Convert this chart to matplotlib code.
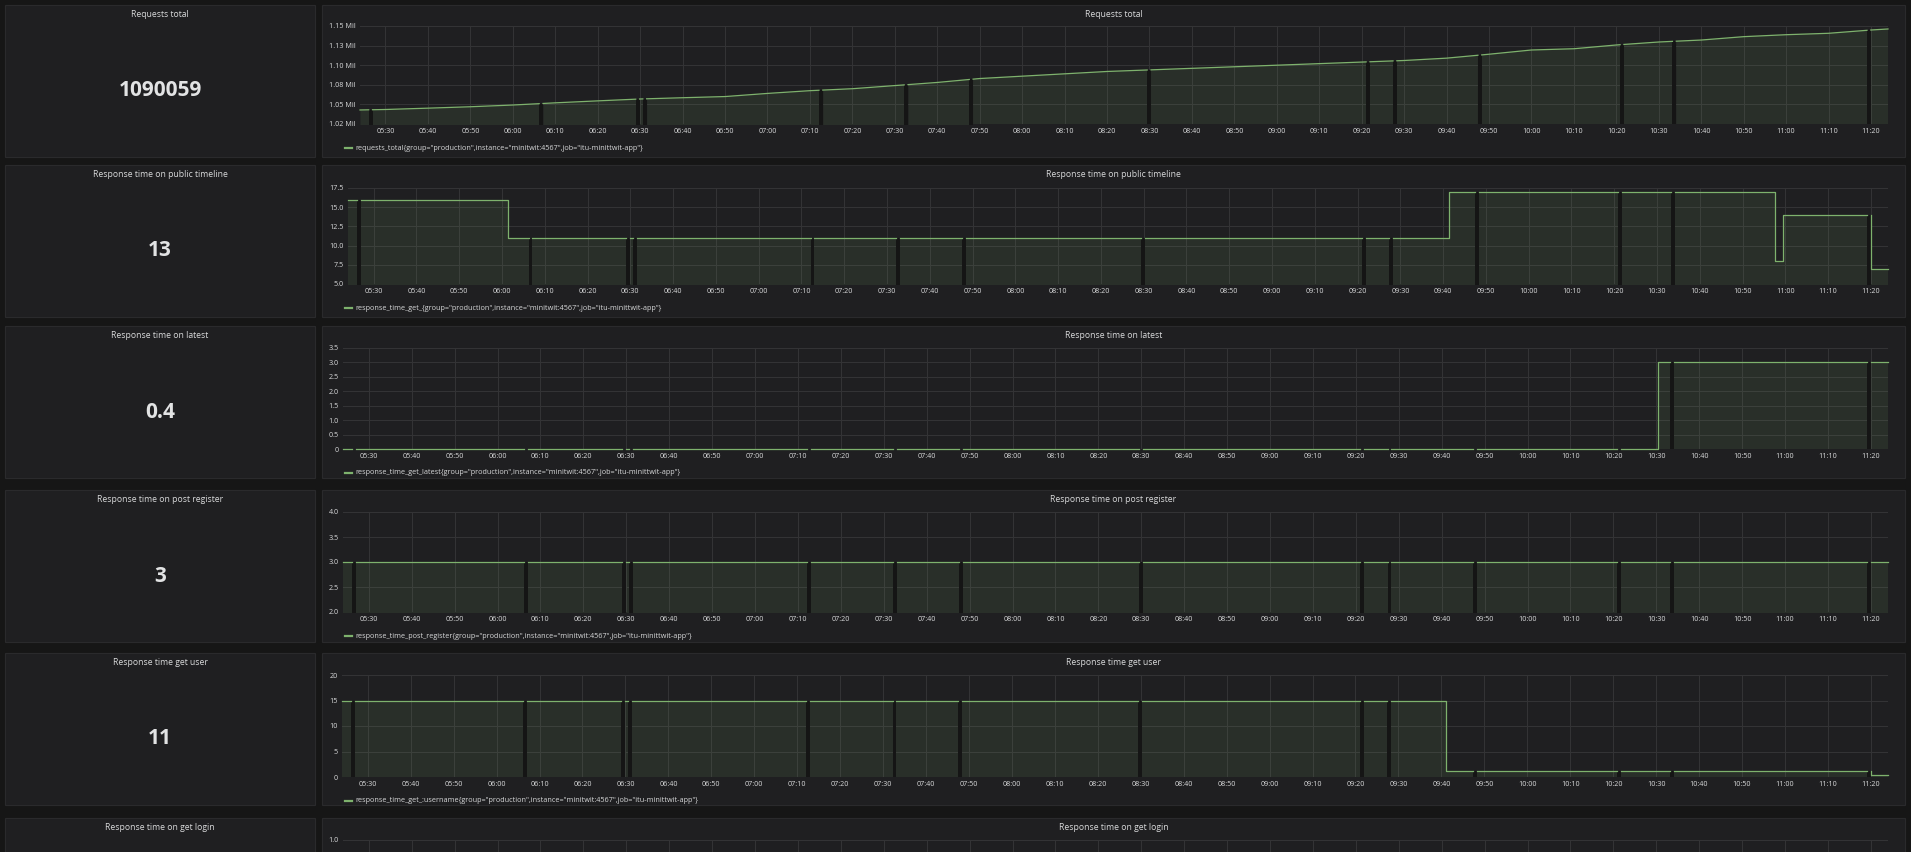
import numpy as np
import matplotlib
matplotlib.use("Agg")
import matplotlib.pyplot as plt
from matplotlib.patches import Rectangle
from matplotlib.lines import Line2D

plt.rcParams['font.family'] = ['Open Sans', 'DejaVu Sans']

W, H = 1911, 852

# colours (grafana dark theme)
PAGE = '#161616'
PANEL = '#1f1f21'
BORDER = '#2a2a2c'
GRID = '#343436'
GREEN = '#7eb26d'
TEXT = '#d8d9da'
GAPC = '#151515'


def hm(s):
    p = [int(v) for v in s.split(':')]
    while len(p) < 3:
        p.append(0)
    return p[0] * 60 + p[1] + p[2] / 60.0


# ---- data ----
T_START, T_END = "05:24", "11:24"
XTICKS = ["05:30", "05:40", "05:50", "06:00", "06:10", "06:20", "06:30", "06:40",
          "06:50", "07:00", "07:10", "07:20", "07:30", "07:40", "07:50", "08:00",
          "08:10", "08:20", "08:30", "08:40", "08:50", "09:00", "09:10", "09:20",
          "09:30", "09:40", "09:50", "10:00", "10:10", "10:20", "10:30", "10:40",
          "10:50", "11:00", "11:10", "11:20"]

# missing scrapes (gap centres), same in every panel
GAPS = ["05:26:30", "06:06:40", "06:29:25", "06:31:05", "07:12:35", "07:32:40",
        "07:48:00", "08:29:55", "09:21:30", "09:27:50", "09:47:50", "10:21:20",
        "10:33:40", "11:19:30"]
GAP_W = 0.9  # minutes

STAT_TITLES = ["Requests total", "Response time on public timeline",
               "Response time on latest", "Response time on post register",
               "Response time get user", "Response time on get login"]
STAT_VALUES = ["1090059", "13", "0.4", "3", "11", None]

LBL = '{group="production",instance="minitwit:4567",job="itu-minittwit-app"}'
LEGENDS = ["requests_total" + LBL, "response_time_get_" + LBL,
           "response_time_get_latest" + LBL, "response_time_post_register" + LBL,
           "response_time_get_:username" + LBL, None]

# requests total (millions), linear
REQ_T = ["05:24", "05:30", "05:40", "05:50", "06:00", "06:10", "06:20", "06:30",
         "06:40", "06:50", "07:00", "07:10", "07:20", "07:30", "07:40", "07:50",
         "08:00", "08:10", "08:20", "08:30", "08:40", "08:50", "09:00", "09:10",
         "09:20", "09:30", "09:40", "09:50", "10:00", "10:10", "10:20", "10:30",
         "10:40", "10:50", "11:00", "11:10", "11:20", "11:24"]
REQ_V = [1.0429, 1.0435, 1.0452, 1.0470, 1.0492, 1.0520, 1.0545, 1.0569,
         1.0585, 1.0600, 1.0640, 1.0675, 1.0700, 1.0740, 1.0780, 1.0830,
         1.0860, 1.0890, 1.0920, 1.0940, 1.0960, 1.0980, 1.1000, 1.1020,
         1.1040, 1.1060, 1.1090, 1.1140, 1.1194, 1.1210, 1.1258, 1.1296,
         1.1321, 1.1364, 1.1389, 1.1407, 1.1449, 1.1462]

# step series: change times and values
PUB_T = ["05:24", "06:01:25", "09:41:25", "10:57:35", "10:59:25", "11:20:00"]
PUB_V = [16, 11, 17, 8, 14, 7]
LATEST_T = ["05:24", "10:30:25"]
LATEST_V = [0, 3]
REG_T = ["05:24"]
REG_V = [3]
USER_T = ["05:24", "09:41:10", "11:20:00"]
USER_V = [15, 1.2, 0.3]

Y1_TICKS = [1.025, 1.05, 1.075, 1.10, 1.125, 1.15]
Y1_LABELS = ["1.02 Mil", "1.05 Mil", "1.08 Mil", "1.10 Mil", "1.13 Mil", "1.15 Mil"]
Y2_TICKS = [5.0, 7.5, 10.0, 12.5, 15.0, 17.5]
Y2_LABELS = ["5.0", "7.5", "10.0", "12.5", "15.0", "17.5"]
Y3_TICKS = [0, 0.5, 1.0, 1.5, 2.0, 2.5, 3.0, 3.5]
Y3_LABELS = ["0", "0.5", "1.0", "1.5", "2.0", "2.5", "3.0", "3.5"]
Y4_TICKS = [2.0, 2.5, 3.0, 3.5, 4.0]
Y4_LABELS = ["2.0", "2.5", "3.0", "3.5", "4.0"]
Y5_TICKS = [0, 5, 10, 15, 20]
Y5_LABELS = ["0", "5", "10", "15", "20"]
Y6_TICKS = [0, 0.5, 1.0]
Y6_LABELS = ["", "", "1.0"]

# ---- layout (pixels) ----
PANEL_TOPS = [5, 165, 326, 490, 653, 818]
PANEL_H = 152
STAT_X = (5, 315)
CHART_X = (322, 1905)
PLOTS = [(360, 26, 1888, 124), (348, 188, 1888, 284), (343, 348, 1888, 449),
         (343, 512, 1888, 612), (342, 675, 1888, 777), (343, 840, 1888, 940)]

series = [("lin", REQ_T, REQ_V), ("step", PUB_T, PUB_V), ("step", LATEST_T, LATEST_V),
          ("step", REG_T, REG_V), ("step", USER_T, USER_V), None]
yaxes = [(Y1_TICKS, Y1_LABELS), (Y2_TICKS, Y2_LABELS), (Y3_TICKS, Y3_LABELS),
         (Y4_TICKS, Y4_LABELS), (Y5_TICKS, Y5_LABELS), (Y6_TICKS, Y6_LABELS)]

t0, t1 = hm(T_START), hm(T_END)
gaps = [(hm(g) - GAP_W / 2, hm(g) + GAP_W / 2) for g in GAPS]
xt = [hm(s) for s in XTICKS]


def value_at(kind, ts, vs, t):
    if kind == "lin":
        return float(np.interp(t, ts, vs))
    idx = np.searchsorted(ts, t, side='right') - 1
    return vs[max(idx, 0)]


def segments():
    out, a = [], t0
    for g0, g1 in gaps:
        out.append((a, g0))
        a = g1
    out.append((a, t1))
    return out


fig = plt.figure(figsize=(W / 100, H / 100), dpi=100, facecolor=PAGE)


def rect(x0, y0, x1, y1):
    fig.add_artist(Rectangle((x0 / W, 1 - y1 / H), (x1 - x0) / W, (y1 - y0) / H,
                             transform=fig.transFigure, facecolor=PANEL,
                             edgecolor=BORDER, lw=0.8, zorder=-2))


for i, top in enumerate(PANEL_TOPS):
    rect(STAT_X[0], top, STAT_X[1], top + PANEL_H)
    rect(CHART_X[0], top, CHART_X[1], top + PANEL_H)
    ty = 1 - (top + 9.5) / H
    fig.text((STAT_X[0] + STAT_X[1]) / 2 / W, ty, STAT_TITLES[i], color=TEXT,
             fontsize=6.2, ha='center', va='center')
    fig.text((CHART_X[0] + CHART_X[1]) / 2 / W, ty, STAT_TITLES[i], color=TEXT,
             fontsize=6.2, ha='center', va='center')
    if STAT_VALUES[i] is not None:
        fig.text((STAT_X[0] + STAT_X[1]) / 2 / W, 1 - (top + 86) / H, STAT_VALUES[i],
                 color='#e2e3e4', fontsize=15, fontweight='bold',
                 ha='center', va='center')

    l, t, r, b = PLOTS[i]
    ax = fig.add_axes([l / W, 1 - b / H, (r - l) / W, (b - t) / H])
    ax.set_facecolor('none')
    ticks, labels = yaxes[i]
    ax.set_xlim(t0, t1)
    ax.set_ylim(ticks[0], ticks[-1])
    ax.set_xticks(xt)
    ax.set_xticklabels(XTICKS)
    ax.set_yticks(ticks)
    ax.set_yticklabels(labels)
    ax.tick_params(length=0, labelsize=5.2, colors=TEXT, pad=3)
    if series[i] is None:
        # last panel runs off the bottom of the screenshot
        ax.tick_params(labelbottom=False)
    ax.grid(True, color=GRID, lw=0.7)
    ax.set_axisbelow(True)
    for s in ax.spines.values():
        s.set_visible(False)

    if series[i] is not None:
        kind, ts_s, vs = series[i]
        ts = [hm(s) for s in ts_s]
        for a, c in segments():
            xs = [a] + [tt for tt in ts if a < tt < c] + [c]
            if kind == "lin":
                ys = list(np.interp(xs, ts, vs))
                ax.fill_between(xs, ys, 0, color=GREEN, alpha=0.11, lw=0)
                ax.plot(xs, ys, color=GREEN, lw=0.9, clip_on=False)
            else:
                ys = [value_at(kind, ts, vs, x) for x in xs[:-1]]
                ys.append(ys[-1])
                ax.fill_between(xs, ys, 0, step='post', color=GREEN, alpha=0.11, lw=0)
                ax.plot(xs, ys, color=GREEN, lw=0.9, drawstyle='steps-post',
                        clip_on=False)
        for g0, g1 in gaps:
            gv = value_at(kind, ts, vs, g0)
            ax.fill_between([g0, g1], [gv, gv], 0, color=GAPC, lw=0, zorder=1.5)

    if LEGENDS[i] is not None:
        ly = 1 - (b + 24) / H
        fig.add_artist(Line2D([345 / W, 352 / W], [ly, ly], transform=fig.transFigure,
                              color=GREEN, lw=1.6))
        fig.text(355 / W, ly, LEGENDS[i], color=TEXT, fontsize=5.2,
                 ha='left', va='center')

fig.savefig("out.png", dpi=100, facecolor=PAGE)
